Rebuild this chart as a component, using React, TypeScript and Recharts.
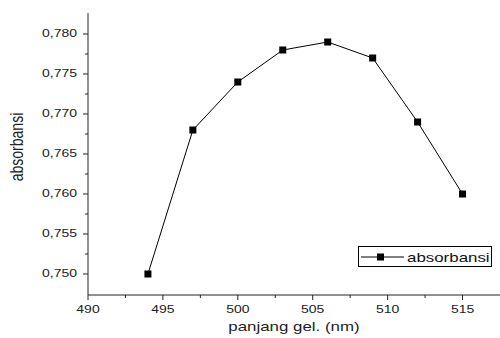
import React from 'react'
import { LineChart, Line, XAxis, YAxis, Legend, Label } from 'recharts'

const wavelengths = [494, 497, 500, 503, 506, 509, 512, 515]
const absorbance = [0.75, 0.768, 0.774, 0.778, 0.779, 0.777, 0.769, 0.76]

const xMajorTicks = [490, 495, 500, 505, 510, 515]
const xMinorTicks = [492.5, 497.5, 502.5, 507.5, 512.5]
const yMajorTicks = [0.75, 0.755, 0.76, 0.765, 0.77, 0.775, 0.78]
const yMinorTicks = [0.7525, 0.7575, 0.7625, 0.7675, 0.7725, 0.7775]

const seriesName = 'absorbansi'
const xTitle = 'panjang gel. (nm)'
const yTitle = 'absorbansi'

const data = wavelengths.map((w, i) => ({ w, abs: absorbance[i] }))

const FONT = '"Liberation Sans", Arial, sans-serif'
const INK = '#222'
const STRETCH = 1.27

const isMajor = (list: number[], v: number) => list.some(t => Math.abs(t - v) < 1e-6)
const fmtY = (v: number) => v.toFixed(3).replace('.', ',')

const XTick = (props: any) => {
  const { x, y, payload } = props
  const major = isMajor(xMajorTicks, payload.value)
  return (
    <g>
      <line x1={x} y1={y} x2={x} y2={y + (major ? 5 : 3)} stroke={INK} />
      {major && (
        <text
          transform={`translate(${x}, ${y + 18}) scale(${STRETCH}, 1)`}
          textAnchor="middle"
          fontSize={11}
          fontFamily={FONT}
          fill={INK}
        >
          {payload.value}
        </text>
      )}
    </g>
  )
}

const YTick = (props: any) => {
  const { x, y, payload } = props
  const major = isMajor(yMajorTicks, payload.value)
  return (
    <g>
      <line x1={x} y1={y} x2={x - (major ? 5 : 3)} y2={y} stroke={INK} />
      {major && (
        <text
          transform={`translate(${x - 11}, ${y + 3}) scale(${STRETCH}, 1)`}
          textAnchor="end"
          fontSize={11}
          fontFamily={FONT}
          fill={INK}
        >
          {fmtY(payload.value)}
        </text>
      )}
    </g>
  )
}

const SquareDot = (props: any) => {
  const { cx, cy, index } = props
  return <rect key={index} x={cx - 3.5} y={cy - 3.5} width={7} height={7} fill="#000" />
}

const YTitle = (props: any) => {
  const vb = props.viewBox
  const cx = vb.x + 17
  const cy = vb.y + vb.height / 2 - 7
  return (
    <text
      transform={`translate(${cx}, ${cy}) scale(${STRETCH}, 1) rotate(-90)`}
      textAnchor="middle"
      dominantBaseline="central"
      fontSize={14}
      fontFamily={FONT}
      fill={INK}
    >
      {yTitle}
    </text>
  )
}

const XTitle = (props: any) => {
  const vb = props.viewBox
  return (
    <text
      transform={`translate(${vb.x + vb.width / 2}, ${vb.y + 36}) scale(1.3, 1)`}
      textAnchor="middle"
      fontSize={13}
      fontFamily={FONT}
      fill={INK}
    >
      {xTitle}
    </text>
  )
}

const LegendBox = () => (
  <div style={{ border: '1px solid #000', width: 132, height: 19, background: '#fff' }}>
    <svg width={132} height={19} style={{ display: 'block' }}>
      <line x1={2} y1={10} x2={45} y2={10} stroke="#000" />
      <rect x={18} y={6.5} width={7} height={7} fill="#000" />
      <text
        transform={`translate(48, 15) scale(1.3, 1)`}
        fontSize={13}
        fontFamily={FONT}
        fill="#111"
      >
        {seriesName}
      </text>
    </svg>
  </div>
)

export default function App() {
  return (
    <div style={{ position: 'absolute', left: 0, top: 0, width: 500, height: 338, overflow: 'hidden', background: '#fff' }}>
      <LineChart width={500} height={338} data={data} margin={{ top: 13, right: 0, left: 0, bottom: 0 }}>
        <XAxis
          xAxisId="top"
          orientation="top"
          type="number"
          dataKey="w"
          domain={[490, 517.5]}
          tick={false}
          tickLine={false}
          height={0}
          axisLine={{ stroke: INK }}
        />
        <XAxis
          type="number"
          dataKey="w"
          domain={[490, 517.5]}
          ticks={[...xMajorTicks, ...xMinorTicks]}
          tick={<XTick />}
          tickLine={false}
          tickSize={0}
          tickMargin={0}
          interval={0}
          height={43}
          axisLine={{ stroke: INK }}
        >
          <Label content={<XTitle />} />
        </XAxis>
        <YAxis
          type="number"
          domain={[0.747375, 0.782625]}
          ticks={[...yMajorTicks, ...yMinorTicks]}
          tick={<YTick />}
          tickLine={false}
          tickSize={0}
          tickMargin={0}
          interval={0}
          width={88}
          axisLine={{ stroke: INK }}
          allowDataOverflow
        >
          <Label content={<YTitle />} />
        </YAxis>
        <Legend
          layout="horizontal"
          verticalAlign="middle"
          align="center"
          content={<LegendBox />}
          wrapperStyle={{ left: 358, top: 246, width: 134, height: 21 }}
        />
        <Line
          xAxisId={0}
          type="linear"
          dataKey="abs"
          name={seriesName}
          stroke="#000"
          strokeWidth={1}
          dot={<SquareDot />}
          activeDot={false}
          isAnimationActive={false}
        />
      </LineChart>
    </div>
  )
}
